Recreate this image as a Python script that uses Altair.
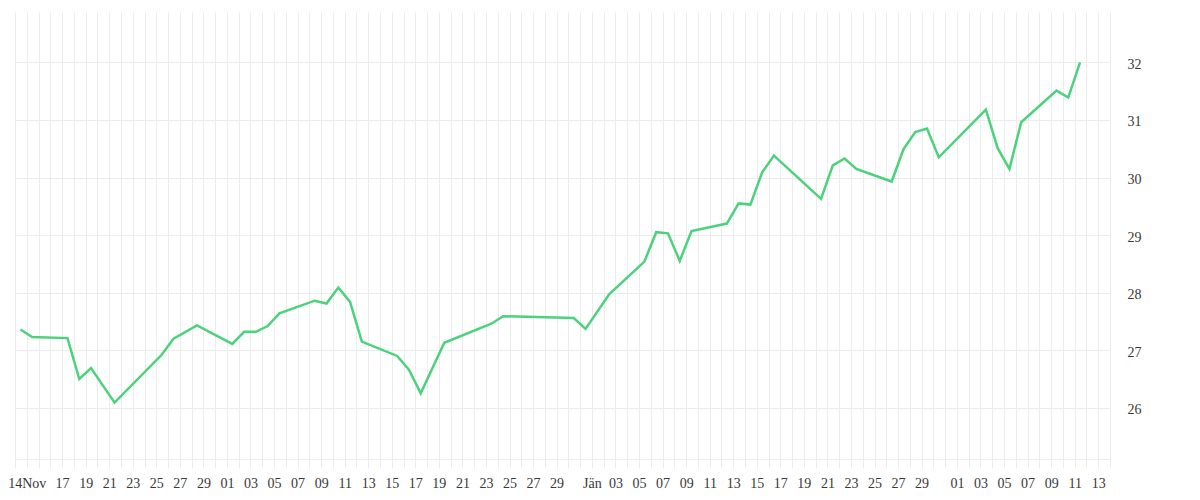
import json
import altair as alt
import pandas as pd

# ---- data ----
dates = [
    "2014-11-13", "2014-11-14", "2014-11-17", "2014-11-18", "2014-11-19", "2014-11-21",
    "2014-11-25", "2014-11-26", "2014-11-28", "2014-12-01", "2014-12-02", "2014-12-03",
    "2014-12-04", "2014-12-05", "2014-12-08", "2014-12-09", "2014-12-10", "2014-12-11",
    "2014-12-12", "2014-12-15", "2014-12-16", "2014-12-17", "2014-12-19", "2014-12-23",
    "2014-12-24", "2014-12-30", "2014-12-31", "2015-01-02", "2015-01-05", "2015-01-06",
    "2015-01-07", "2015-01-08", "2015-01-09", "2015-01-12", "2015-01-13", "2015-01-14",
    "2015-01-15", "2015-01-16", "2015-01-20", "2015-01-21", "2015-01-22", "2015-01-23",
    "2015-01-26", "2015-01-27", "2015-01-28", "2015-01-29", "2015-01-30", "2015-02-03",
    "2015-02-04", "2015-02-05", "2015-02-06", "2015-02-09", "2015-02-10", "2015-02-11",
]
values = [
    27.36, 27.23, 27.21, 26.50, 26.69, 26.09,
    26.92, 27.20, 27.43, 27.11, 27.32, 27.32,
    27.42, 27.64, 27.86, 27.81, 28.09, 27.84,
    27.15, 26.90, 26.66, 26.25, 27.13, 27.46,
    27.59, 27.56, 27.37, 27.97, 28.54, 29.05,
    29.03, 28.55, 29.07, 29.20, 29.55, 29.53,
    30.09, 30.38, 29.63, 30.21, 30.33, 30.15,
    29.93, 30.49, 30.79, 30.85, 30.35, 31.18,
    30.51, 30.15, 30.96, 31.51, 31.39, 32.00,
]

# x tick labels (date -> text)
label_dates = (
    ["2014-11-14"]
    + [f"2014-11-{d:02d}" for d in range(17, 30, 2)]
    + [f"2014-12-{d:02d}" for d in range(1, 30, 2)]
    + [f"2015-01-{d:02d}" for d in range(1, 30, 2)]
    + [f"2015-02-{d:02d}" for d in range(1, 14, 2)]
)
label_texts = (
    ["14Nov"]
    + [f"{d:02d}" for d in range(17, 30, 2)]
    + [f"{d:02d}" for d in range(1, 30, 2)]
    + ["Jän"] + [f"{d:02d}" for d in range(3, 30, 2)]
    + [f"{d:02d}" for d in range(1, 14, 2)]
)
y_ticks = [26, 27, 28, 29, 30, 31, 32]

df = pd.DataFrame({"date": dates, "value": values})

# daily grid / tick positions
days = pd.date_range("2014-11-13", "2015-02-14", freq="D")
tick_values = [alt.DateTime(year=d.year, month=d.month, date=d.day, utc=True) for d in days]

keys_js = json.dumps(label_dates, ensure_ascii=False)
texts_js = json.dumps(label_texts, ensure_ascii=False)
key_expr = "utcFormat(datum.value, '%Y-%m-%d')"
label_expr = (
    f"indexof({keys_js}, {key_expr}) >= 0 ? "
    f"{texts_js}[indexof({keys_js}, {key_expr})] : ''"
)

FONT = "Liberation Serif"
GRID = "#ececec"
TEXT = "#383838"

chart = (
    alt.Chart(df)
    .transform_calculate(t="time(utcParse(datum.date, '%Y-%m-%d')) + 39600000")
    .mark_line(color="#4cd27c", strokeWidth=2.5)
    .encode(
        x=alt.X(
            "t:T",
            title=None,
            scale=alt.Scale(
                type="utc",
                domain=[
                    alt.DateTime(year=2014, month=11, date=13, utc=True),
                    alt.DateTime(year=2015, month=2, date=14, utc=True),
                ],
                nice=False,
            ),
            axis=alt.Axis(
                values=tick_values,
                labelExpr=label_expr,
                labelOverlap=False,
                labelBound=False,
                labelFlush=False,
                grid=True,
                gridColor=GRID,
                gridWidth=1,
                ticks=True,
                tickColor=GRID,
                tickSize=9,
                domain=True,
                domainColor=GRID,
                domainWidth=1,
                labelPadding=8,
                labelFont=FONT,
                labelFontSize=14,
                labelColor=TEXT,
            ),
        ),
        y=alt.Y(
            "value:Q",
            title=None,
            scale=alt.Scale(domain=[25.11, 32.875], nice=False, zero=False),
            axis=alt.Axis(
                orient="right",
                values=y_ticks,
                grid=True,
                gridColor=GRID,
                gridWidth=1,
                ticks=False,
                tickSize=0,
                domain=False,
                labelPadding=17,
                labelOffset=2,
                labelFont=FONT,
                labelFontSize=14,
                labelColor=TEXT,
            ),
        ),
    )
    .properties(
        width=1095,
        height=447,
        autosize="none",
        padding={"left": 7, "top": 4, "right": 70, "bottom": 30},
    )
    .configure_view(strokeWidth=0)
)

chart.save("out.html", embed_options={"renderer": "svg", "actions": False})
